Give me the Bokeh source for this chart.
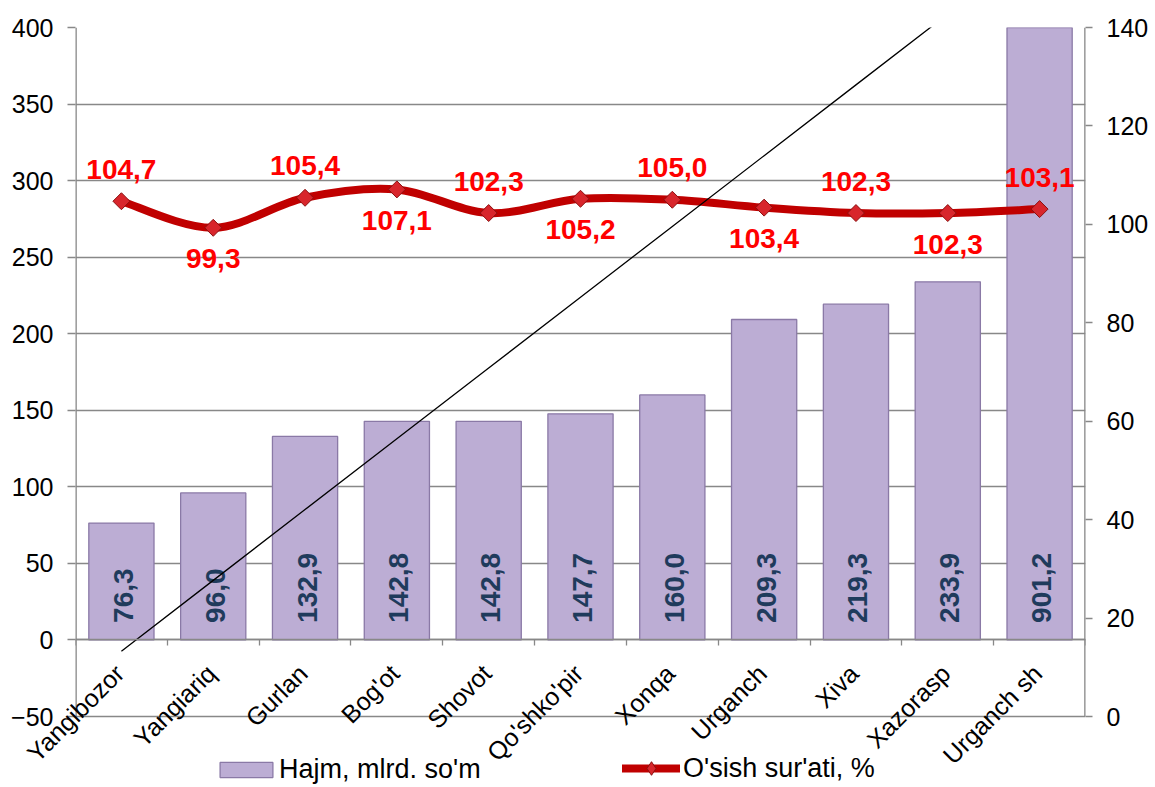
import math
import numpy as np
from bokeh.plotting import figure
from bokeh.models import (Range1d, LinearAxis, FixedTicker, Legend, LegendItem,
                          ColumnDataSource)
from bokeh.core.properties import value
from bokeh.embed import file_html
from bokeh.resources import INLINE

# ---------------- data ----------------
categories = ["Yangibozor", "Yangiariq", "Gurlan", "Bog'ot", "Shovot", "Qo'shko'pir",
              "Xonqa", "Urganch", "Xiva", "Xazorasp", "Urganch sh"]
volume = [76.3, 96.0, 132.9, 142.8, 142.8, 147.7, 160.0, 209.3, 219.3, 233.9, 901.2]
growth = [104.7, 99.3, 105.4, 107.1, 102.3, 105.2, 105.0, 103.4, 102.3, 102.3, 103.1]
left_ticks = [-50, 0, 50, 100, 150, 200, 250, 300, 350, 400]
right_ticks = [0, 20, 40, 60, 80, 100, 120, 140]
series_names = ["Hajm, mlrd. so'm", "O'sish sur'ati, %"]

FONT = "Liberation Sans"
GRID = "#888888"

W, H = 1152, 785
TOP, LEFT, RIGHT = 27, 75, 67
PLOT_H = 689          # pixel height of the -50..400 scale
EXTRA_PX = H - TOP - PLOT_H   # room kept under the -50 line for labels and legend


def fmt(v):
    return f"{v:.1f}".replace(".", ",")


n = len(categories)
idx = list(range(n))

l_span = left_ticks[-1] - left_ticks[0]
r_span = right_ticks[-1] - right_ticks[0]
l_start = left_ticks[0] - EXTRA_PX * l_span / PLOT_H
r_start = right_ticks[0] - EXTRA_PX * r_span / PLOT_H
x_lo, x_hi = -0.5, n - 0.5

p = figure(width=W, height=H, output_backend="svg", toolbar_location=None,
           tools="", x_range=Range1d(x_lo, x_hi),
           y_range=Range1d(l_start, left_ticks[-1]),
           min_border_left=LEFT, min_border_right=RIGHT, min_border_top=TOP,
           min_border_bottom=0)
p.outline_line_color = None
p.background_fill_color = "white"
p.border_fill_color = "white"
p.extra_y_ranges = {"pct": Range1d(r_start, right_ticks[-1])}

# left axis
ya = p.yaxis[0]
ya.ticker = FixedTicker(ticks=left_ticks)
ya.axis_line_color = None
ya.major_tick_line_color = GRID
ya.major_tick_line_width = 1.3
ya.major_tick_out = 8
ya.major_tick_in = 0
ya.minor_tick_line_color = None
ya.major_label_text_font = FONT
ya.major_label_text_font_size = "25px"
ya.major_label_text_color = "black"
ya.major_label_standoff = 14

# right axis
ra = LinearAxis(y_range_name="pct", ticker=FixedTicker(ticks=right_ticks))
ra.axis_line_color = None
ra.major_tick_line_color = GRID
ra.major_tick_line_width = 1.3
ra.major_tick_out = 7
ra.major_tick_in = 0
ra.minor_tick_line_color = None
ra.major_label_text_font = FONT
ra.major_label_text_font_size = "25px"
ra.major_label_text_color = "black"
ra.major_label_standoff = 14
p.add_layout(ra, "right")

# vertical axis lines, limited to the scale ranges
p.segment(x0=[x_lo], y0=[left_ticks[0]], x1=[x_lo], y1=[left_ticks[-1]],
          line_color=GRID, line_width=2.6)
p.segment(x0=[x_hi], y0=[right_ticks[0]], x1=[x_hi], y1=[right_ticks[-1]],
          line_color=GRID, line_width=2.6, y_range_name="pct")

# x axis sits on y = 0, ticks between categories
xa = p.xaxis[0]
xa.fixed_location = 0
xa.ticker = FixedTicker(ticks=idx, minor_ticks=[i - 0.5 for i in range(n + 1)])
xa.major_label_text_color = None
xa.major_tick_line_color = None
xa.major_tick_out = 0
xa.major_tick_in = 0
xa.minor_tick_line_color = GRID
xa.minor_tick_line_width = 1.3
xa.minor_tick_out = 6
xa.minor_tick_in = 0
xa.axis_line_color = GRID
xa.axis_line_width = 1.3

p.xgrid.visible = False
p.ygrid.ticker = FixedTicker(ticks=left_ticks)
p.ygrid.grid_line_color = GRID
p.ygrid.grid_line_width = 1.3

# bars
bar_src = ColumnDataSource(dict(x=idx, top=volume, lab=[fmt(v) for v in volume],
                                cat=categories))
bars = p.vbar(x="x", top="top", width=0.71, source=bar_src,
              fill_color="#BCADD4", line_color="#8A79A6", line_width=1.3)
p.text(x="x", y=0, text="lab", source=bar_src, angle=math.pi / 2,
       text_align="left", text_baseline="middle", y_offset=-17, x_offset=2,
       text_font=value(FONT), text_font_style="bold", text_font_size="28px",
       text_color="#1F3B5C")

# category names, rotated 45 degrees under the zero line
cat_r = p.text(x="x", y=0, text="cat", source=bar_src, angle=math.pi / 4,
               text_align="right", text_baseline="middle", x_offset=-2, y_offset=29,
               text_font=value(FONT), text_font_size="25px", text_color="black")
cat_r.level = "overlay"

# smoothed growth line (cubic bezier through the data points)
gx = np.array(idx, dtype=float)
gy = np.array(growth, dtype=float)
prev_i = [max(i - 1, 0) for i in range(n - 1)]
next_i = [min(i + 2, n - 1) for i in range(n - 1)]
seg = dict(
    x0=gx[:-1], y0=gy[:-1], x1=gx[1:], y1=gy[1:],
    cx0=gx[:-1] + (gx[1:] - gx[prev_i]) / 6.0,
    cy0=gy[:-1] + (gy[1:] - gy[prev_i]) / 6.0,
    cx1=gx[1:] - (gx[next_i] - gx[:-1]) / 6.0,
    cy1=gy[1:] - (gy[next_i] - gy[:-1]) / 6.0,
)
curve = p.bezier(source=ColumnDataSource(seg), x0="x0", y0="y0", x1="x1", y1="y1",
                 cx0="cx0", cy0="cy0", cx1="cx1", cy1="cy1",
                 line_color="#C00000", line_width=8, line_cap="round",
                 y_range_name="pct")
markers = p.scatter(x=idx, y=growth, marker="square", angle=math.pi / 4, size=12,
                    fill_color="#D8262C", line_color="#8B1010", line_width=1,
                    y_range_name="pct")
# diamond used only as the legend symbol of the growth series
legend_marker = p.scatter(x=idx, y=growth, marker="diamond", size=16,
                          fill_color="#D8262C", line_color="#8B1010", line_width=1,
                          y_range_name="pct", visible=False)

# growth labels, alternately above and below
up = [i for i in idx if i % 2 == 0]
dn = [i for i in idx if i % 2 == 1]
p.text(x=up, y=[growth[i] for i in up], text=[fmt(growth[i]) for i in up],
       y_range_name="pct", text_align="center", text_baseline="alphabetic",
       y_offset=-32, text_font=value(FONT), text_font_style="bold",
       text_font_size="28px", text_color="#FF0000")
p.text(x=dn, y=[growth[i] for i in dn], text=[fmt(growth[i]) for i in dn],
       y_range_name="pct", text_align="center", text_baseline="alphabetic",
       y_offset=31, text_font=value(FONT), text_font_style="bold",
       text_font_size="28px", text_color="#FF0000")

# linear trend of the volume series
coef = np.polyfit(idx, volume, 1)
trend = np.polyval(coef, idx)
p.line(x=idx, y=trend, line_color="black", line_width=1.3)

# legends (inside the frame, under the -50 line)
common = dict(orientation="horizontal", padding=0, margin=0,
              label_text_font=FONT, label_text_font_size="27px",
              label_text_color="black", background_fill_alpha=0,
              border_line_color=None, inactive_fill_alpha=0)
leg1 = Legend(items=[LegendItem(label=series_names[0], renderers=[bars])],
              location=(138, 0), glyph_width=66, glyph_height=19,
              label_standoff=0, **common)
leg2 = Legend(items=[LegendItem(label=series_names[1],
                                renderers=[curve, legend_marker])],
              location=(547, 0), glyph_width=58, glyph_height=34,
              label_standoff=3, **common)
p.add_layout(leg1)
p.add_layout(leg2)

open("out.html", "w").write(file_html(p, INLINE))
